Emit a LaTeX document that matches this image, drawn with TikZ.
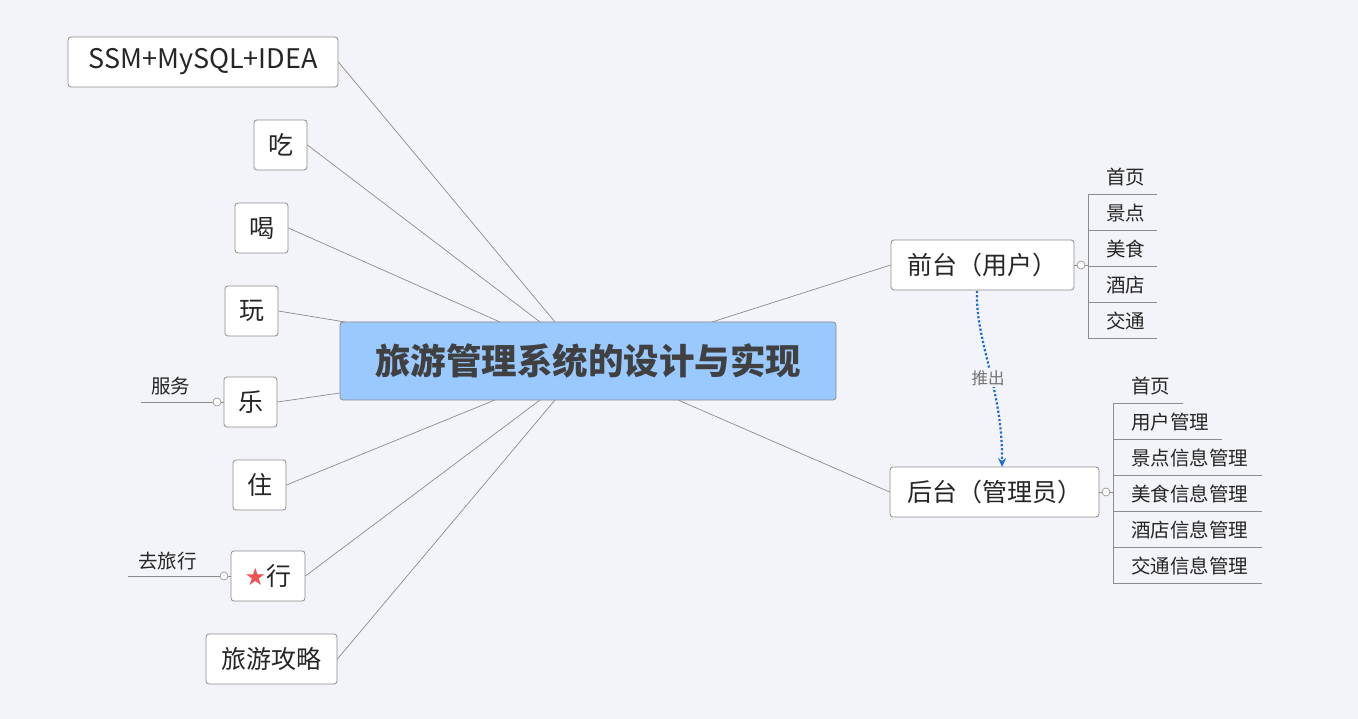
\documentclass[tikz,border=0pt]{standalone}
\usepackage{fontspec}
\usetikzlibrary{arrows.meta}
\setmainfont{Noto Sans CJK SC}
\newfontfamily\symf{DejaVu Sans}
\begin{document}
\begin{tikzpicture}[x=1pt,y=-1pt,
  box/.style={draw=black!45,fill=white,rounded corners=3pt,line width=0.8pt,inner sep=0pt,font=\fontsize{25}{28}\selectfont,text=black!85},
  ln/.style={draw=black!45,line width=0.7pt},
  sub/.style={font=\fontsize{19.5}{22}\selectfont,text=black!85,anchor=west,inner sep=0pt},
  dot/.style={draw=black!45,fill=white,line width=0.6pt},
  ctr/.style={box,minimum width=496pt,minimum height=78pt,fill={rgb,255:red,153;green,201;blue,255},font=\fontsize{35.5}{40}\selectfont\bfseries,text=black!75}]
\fill[fill={rgb,255:red,243;green,244;blue,249}] (0,0) rectangle (1358,719);
\useasboundingbox (0,0) rectangle (1358,719);
\node[box,minimum width=270pt,minimum height=50pt,font=\fontsize{27}{30}\selectfont] (n1) at (203,62) {SSM+MySQL+IDEA};
\node[box,minimum width=53pt,minimum height=50pt] (n2) at (280.5,145) {吃};
\node[box,minimum width=53pt,minimum height=50pt] (n3) at (261.5,228) {喝};
\node[box,minimum width=53pt,minimum height=50pt] (n4) at (251.5,311) {玩};
\node[box,minimum width=53pt,minimum height=50pt] (n5) at (250.5,402) {乐};
\node[box,minimum width=53pt,minimum height=50pt] (n6) at (259.5,485) {住};
\node[box,minimum width=74pt,minimum height=50pt] (n7) at (268,576) {{\symf\color[rgb]{0.93,0.33,0.33}\fontsize{24}{24}\selectfont★}行};
\node[box,minimum width=131pt,minimum height=50pt] (n8) at (271.5,659) {旅游攻略};
\node[box,minimum width=183pt,minimum height=50pt] (r1) at (982.5,265) {前台（用户）};
\node[box,minimum width=209pt,minimum height=50pt] (r2) at (994.5,492) {后台（管理员）};
\coordinate (p1) at (555,322);\coordinate (p2) at (540,322);\coordinate (p3) at (500,322);
\coordinate (p4) at (345,322);\coordinate (p5) at (340,393);\coordinate (p6) at (495,400);
\coordinate (p7) at (540,400);\coordinate (p8) at (555,400);\coordinate (p9) at (712,322);\coordinate (p10) at (678,400);
\draw[ln] (n1.east)--(p1); \draw[ln] (n2.east)--(p2); \draw[ln] (n3.east)--(p3);
\draw[ln] (n4.east)--(p4); \draw[ln] (n5.east)--(p5); \draw[ln] (n6.east)--(p6);
\draw[ln] (n7.east)--(p7); \draw[ln] (n8.east)--(p8);
\draw[ln] (r1.west)--(p9); \draw[ln] (r2.west)--(p10);
\node[ctr] (c) at (588,361) {旅游管理系统的设计与实现};
\draw[ln] (141,402)--(n5.west);
\node[sub] (l1) at (151,386) {服务};
\draw[dot] (217,402) circle (4);
\draw[ln] (128,576)--(n7.west);
\node[sub] (l2) at (138,561) {去旅行};
\draw[dot] (224,576) circle (4);
\draw[ln] (r1.east)--(1088,265);
\draw[ln] (1088,194)--(1088,338);
\foreach \t/\y in {首页/177,景点/213,美食/249,酒店/285,交通/321}{
  \node[sub] at (1106,\y) {\t};
  \draw[ln] (1088,\y+17)--(1157,\y+17);}
\draw[dot] (1081,265) circle (4);
\draw[ln] (r2.east)--(1113,492);
\draw[ln] (1113,403)--(1113,583);
\node[sub] at (1131,386) {首页}; \draw[ln] (1113,403)--(1183,403);
\node[sub] at (1131,422) {用户管理}; \draw[ln] (1113,439)--(1222,439);
\foreach \t/\y in {景点信息管理/458,美食信息管理/494,酒店信息管理/530,交通信息管理/566}{
  \node[sub] at (1131,\y) {\t};
  \draw[ln] (1113,\y+17)--(1262,\y+17);}
\draw[dot] (1106,492) circle (4);
\coordinate (s) at (977,291);
\coordinate (e) at (1002,467);
\draw[draw={rgb,255:red,30;green,110;blue,210},line width=2.2pt,dotted,-{Stealth[length=9pt,width=8pt]}]
  (s) .. controls (975,340) and (1003,390) .. (e);
\node[font=\fontsize{16.5}{18}\selectfont,text=black!55,fill={rgb,255:red,243;green,244;blue,249},inner sep=1pt] (lb) at (988,378) {推出};
\end{tikzpicture}
\end{document}
